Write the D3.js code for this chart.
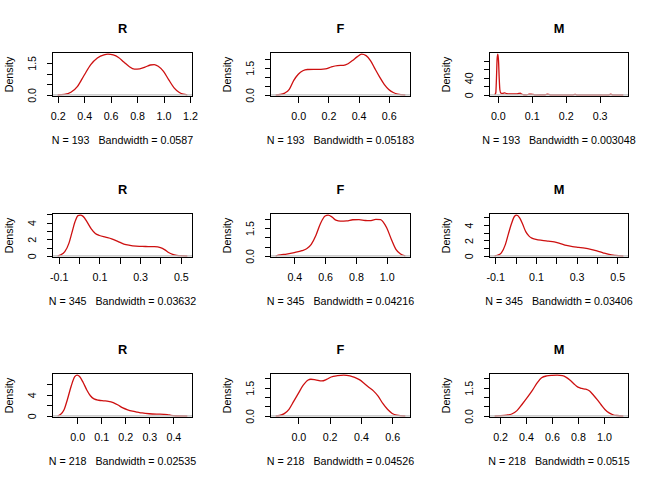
<!DOCTYPE html>
<html>
<head>
<meta charset="utf-8">
<script src="https://cdn.jsdelivr.net/npm/d3@7"></script>
<style>
  html, body { margin: 0; padding: 0; background: #ffffff; }
  svg { display: block; }
  text { font-family: "Liberation Sans", Arial, Helvetica, sans-serif; fill: #000; }
</style>
</head>
<body>
<svg id="chart" width="655" height="482"></svg>
<script>
// ---------------- DATA ----------------
const titles = ["R", "F", "M", "R", "F", "M", "R", "F", "M"];
const sampleN = [193, 193, 193, 345, 345, 345, 218, 218, 218];
const bandwidths = ["0.0587", "0.05183", "0.003048", "0.03632", "0.04216", "0.03406", "0.02535", "0.04526", "0.0515"];

// density curves (x, density)
const d1x = [0.20, 0.25, 0.30, 0.35, 0.40, 0.45, 0.50, 0.55, 0.58, 0.62, 0.66, 0.70, 0.74, 0.78, 0.82, 0.86, 0.90, 0.93, 0.96, 1.00, 1.04, 1.08, 1.12, 1.15, 1.18];
const d1y = [0.00, 0.02, 0.12, 0.40, 0.92, 1.42, 1.73, 1.88, 1.91, 1.87, 1.75, 1.54, 1.33, 1.21, 1.22, 1.30, 1.40, 1.42, 1.34, 1.10, 0.70, 0.33, 0.11, 0.03, 0.00];

const d2x = [-0.15, -0.12, -0.09, -0.06, -0.03, 0.00, 0.03, 0.06, 0.10, 0.15, 0.18, 0.22, 0.26, 0.30, 0.33, 0.36, 0.39, 0.42, 0.45, 0.48, 0.51, 0.54, 0.57, 0.60, 0.63, 0.66, 0.71];
const d2y = [0.00, 0.02, 0.10, 0.30, 0.80, 1.14, 1.33, 1.40, 1.41, 1.41, 1.43, 1.55, 1.62, 1.63, 1.72, 1.90, 2.10, 2.25, 2.17, 1.88, 1.42, 0.98, 0.58, 0.30, 0.13, 0.04, 0.00];

const d3x = [-0.0094, -0.006, -0.004, -0.002, 0.000, 0.002, 0.004, 0.006, 0.009, 0.014, 0.020, 0.026, 0.035, 0.045, 0.055, 0.062, 0.066, 0.070, 0.076, 0.085, 0.092, 0.098, 0.104, 0.110, 0.140, 0.145, 0.150, 0.156, 0.220, 0.228, 0.234, 0.325, 0.333, 0.340, 0.370];
const d3y = [0, 5, 40, 85, 95, 80, 40, 12, 4, 3.5, 4.5, 3, 2.5, 2.5, 2.5, 3.5, 4, 2, 0.3, 0.2, 1.5, 1.5, 1.0, 0.2, 0.3, 1.5, 1.2, 0.1, 0.1, 1.3, 0.1, 0.1, 1.4, 0.1, 0];

const d4x = [-0.105, -0.09, -0.07, -0.05, -0.035, -0.02, -0.005, 0.005, 0.02, 0.04, 0.06, 0.08, 0.10, 0.13, 0.16, 0.19, 0.22, 0.25, 0.28, 0.31, 0.34, 0.37, 0.40, 0.42, 0.44, 0.46, 0.48, 0.50, 0.532];
const d4y = [0, 0.12, 0.5, 1.5, 2.8, 4.1, 4.85, 4.9, 4.75, 4.05, 3.25, 2.7, 2.45, 2.25, 2.05, 1.75, 1.42, 1.27, 1.18, 1.13, 1.12, 1.10, 0.98, 0.75, 0.40, 0.18, 0.07, 0.02, 0];

const d5x = [0.279, 0.31, 0.35, 0.40, 0.45, 0.48, 0.51, 0.54, 0.57, 0.60, 0.62, 0.645, 0.67, 0.70, 0.74, 0.78, 0.82, 0.86, 0.89, 0.93, 0.96, 0.98, 1.00, 1.03, 1.06, 1.09, 1.121];
const d5y = [0, 0.05, 0.10, 0.18, 0.28, 0.38, 0.62, 1.10, 1.75, 2.15, 2.20, 2.10, 1.93, 1.88, 1.89, 1.95, 1.96, 1.91, 1.90, 1.97, 1.96, 1.80, 1.52, 0.90, 0.35, 0.10, 0];

const d6x = [-0.103, -0.09, -0.07, -0.05, -0.035, -0.02, -0.005, 0.005, 0.02, 0.035, 0.05, 0.065, 0.08, 0.10, 0.13, 0.16, 0.19, 0.22, 0.25, 0.28, 0.31, 0.34, 0.37, 0.40, 0.43, 0.46, 0.49, 0.53];
const d6y = [0, 0.08, 0.4, 1.5, 2.9, 4.2, 5.15, 5.3, 4.95, 4.1, 3.15, 2.6, 2.3, 2.15, 2.02, 1.92, 1.82, 1.6, 1.35, 1.2, 1.1, 1.0, 0.85, 0.65, 0.40, 0.18, 0.07, 0];

const d7x = [-0.081, -0.07, -0.055, -0.04, -0.025, -0.01, 0.000, 0.01, 0.025, 0.04, 0.055, 0.07, 0.09, 0.11, 0.13, 0.15, 0.17, 0.19, 0.21, 0.23, 0.25, 0.27, 0.30, 0.33, 0.36, 0.375, 0.39, 0.41, 0.458];
const d7y = [0, 0.25, 1.1, 3.2, 5.6, 7.4, 7.7, 7.45, 6.3, 4.9, 3.8, 3.2, 2.95, 2.85, 2.75, 2.5, 2.05, 1.5, 1.15, 0.9, 0.72, 0.55, 0.40, 0.33, 0.30, 0.25, 0.08, 0.02, 0];

const d8x = [-0.145, -0.12, -0.09, -0.06, -0.03, 0.00, 0.03, 0.06, 0.08, 0.11, 0.15, 0.18, 0.21, 0.25, 0.29, 0.33, 0.36, 0.39, 0.42, 0.45, 0.48, 0.51, 0.54, 0.57, 0.60, 0.63, 0.684];
const d8y = [0, 0.02, 0.12, 0.35, 0.77, 1.20, 1.62, 1.90, 1.95, 1.92, 1.86, 1.94, 2.07, 2.14, 2.17, 2.13, 2.05, 1.93, 1.74, 1.53, 1.33, 1.05, 0.66, 0.35, 0.13, 0.04, 0];

const d9x = [0.158, 0.20, 0.25, 0.29, 0.33, 0.37, 0.41, 0.45, 0.49, 0.52, 0.56, 0.60, 0.64, 0.68, 0.71, 0.74, 0.77, 0.80, 0.83, 0.86, 0.89, 0.92, 0.95, 0.98, 1.01, 1.04, 1.07, 1.10, 1.15];
const d9y = [0, 0.01, 0.04, 0.10, 0.28, 0.62, 0.98, 1.37, 1.80, 2.03, 2.13, 2.16, 2.17, 2.14, 2.05, 1.90, 1.70, 1.53, 1.46, 1.42, 1.32, 1.10, 0.85, 0.58, 0.33, 0.16, 0.06, 0.02, 0];

// tick values and labels ("" = tick without label)
const xt1 = [0.2, 0.4, 0.6, 0.8, 1.0, 1.2], xl1 = ["0.2", "0.4", "0.6", "0.8", "1.0", "1.2"];
const xt2 = [0.0, 0.2, 0.4, 0.6], xl2 = ["0.0", "0.2", "0.4", "0.6"];
const xt3 = [0.0, 0.1, 0.2, 0.3], xl3 = ["0.0", "0.1", "0.2", "0.3"];
const xt4 = [-0.1, 0.0, 0.1, 0.2, 0.3, 0.4, 0.5], xl4 = ["-0.1", "", "0.1", "", "0.3", "", "0.5"];
const xt5 = [0.4, 0.6, 0.8, 1.0], xl5 = ["0.4", "0.6", "0.8", "1.0"];
const xt6 = [-0.1, 0.0, 0.1, 0.2, 0.3, 0.4, 0.5], xl6 = ["-0.1", "", "0.1", "", "0.3", "", "0.5"];
const xt7 = [0.0, 0.1, 0.2, 0.3, 0.4], xl7 = ["0.0", "0.1", "0.2", "0.3", "0.4"];
const xt8 = [0.0, 0.2, 0.4, 0.6], xl8 = ["0.0", "0.2", "0.4", "0.6"];
const xt9 = [0.2, 0.4, 0.6, 0.8, 1.0], xl9 = ["0.2", "0.4", "0.6", "0.8", "1.0"];

const yt1 = [0, 0.5, 1.0, 1.5], yl1 = ["0.0", "", "", "1.5"];
const yt2 = [0, 0.5, 1.0, 1.5, 2.0], yl2 = ["0.0", "", "", "1.5", ""];
const yt3 = [0, 20, 40, 60, 80], yl3 = ["0", "", "40", "", ""];
const yt4 = [0, 1, 2, 3, 4, 5], yl4 = ["0", "", "2", "", "4", ""];
const yt5 = [0, 0.5, 1.0, 1.5, 2.0], yl5 = ["0.0", "", "", "1.5", ""];
const yt6 = [0, 1, 2, 3, 4, 5], yl6 = ["0", "", "2", "", "4", ""];
const yt7 = [0, 2, 4, 6], yl7 = ["0", "", "4", ""];
const yt8 = [0, 0.5, 1.0, 1.5, 2.0], yl8 = ["0.0", "", "", "1.5", ""];
const yt9 = [0, 0.5, 1.0, 1.5, 2.0], yl9 = ["0.0", "", "", "1.5", ""];

const curveX = [d1x, d2x, d3x, d4x, d5x, d6x, d7x, d8x, d9x];
const curveY = [d1y, d2y, d3y, d4y, d5y, d6y, d7y, d8y, d9y];
const xTicks = [xt1, xt2, xt3, xt4, xt5, xt6, xt7, xt8, xt9];
const xLabels = [xl1, xl2, xl3, xl4, xl5, xl6, xl7, xl8, xl9];
const yTicks = [yt1, yt2, yt3, yt4, yt5, yt6, yt7, yt8, yt9];
const yLabels = [yl1, yl2, yl3, yl4, yl5, yl6, yl7, yl8, yl9];

// ---------------- LAYOUT ----------------
const W = 655, H = 482;
const PW = W / 3, PH = H / 3;
const LINE = 12.667;
const mL = 4.1 * LINE, mR = 2.1 * LINE, mT = 4.1 * LINE, mB = 5.1 * LINE;
const FS = 10.7, FS_MAIN = 12.8;
const RED = "#CD1010";

const svg = d3.select("#chart");

for (let i = 0; i < 9; i++) {
  const row = Math.floor(i / 3), col = i % 3;
  const x0 = col * PW, y0 = row * PH;
  const left = Math.round(x0 + mL) + 0.5;
  const right = Math.round(x0 + PW - mR) + 0.5;
  const top = Math.round(y0 + mT) + 0.5;
  const bottom = Math.round(y0 + PH - mB) + 0.5;

  const xs = curveX[i], ys = curveY[i];
  const pts = xs.map((v, k) => [v, ys[k]]);
  const [xa, xb] = d3.extent(xs);
  const xr = xb - xa;
  const ymax = d3.max(ys);

  const x = d3.scaleLinear().domain([xa - 0.04 * xr, xb + 0.04 * xr]).range([left, right]);
  const y = d3.scaleLinear().domain([-0.04 * ymax, 1.04 * ymax]).range([bottom, top]);

  const g = svg.append("g");

  // density curve
  g.append("path")
    .datum(pts)
    .attr("fill", "none")
    .attr("stroke", RED)
    .attr("stroke-width", 1.3)
    .attr("stroke-linejoin", "round")
    .attr("d", d3.line().x(d => x(d[0])).y(d => y(d[1])).curve(d3.curveMonotoneX));

  // zero line (drawn on top like R's abline)
  g.append("line")
    .attr("x1", left).attr("x2", right)
    .attr("y1", y(0)).attr("y2", y(0))
    .attr("stroke", "#BEBEBE").attr("stroke-width", 1.2);

  // box
  g.append("rect")
    .attr("x", left).attr("y", top)
    .attr("width", right - left).attr("height", bottom - top)
    .attr("fill", "none").attr("stroke", "#000").attr("stroke-width", 1)
    .attr("shape-rendering", "crispEdges");

  // x axis
  const xl = xLabels[i];
  const xt = xTicks[i];
  const xAxis = d3.axisBottom(x).tickValues(xt).tickSize(6).tickSizeOuter(0)
    .tickFormat((d, k) => xl[k]);
  const gx = g.append("g").attr("transform", `translate(0,${bottom})`).call(xAxis);
  gx.select(".domain")
    .attr("d", `M${x(xt[0])},0H${x(xt[xt.length - 1])}`)
    .attr("stroke", "#000").attr("shape-rendering", "crispEdges");
  gx.selectAll(".tick line").attr("stroke", "#000").attr("shape-rendering", "crispEdges");
  gx.selectAll(".tick text")
    .attr("y", 23.3).attr("dy", null)
    .attr("font-size", FS).attr("font-family", null).attr("fill", "#000");
  gx.attr("font-family", null).attr("font-size", null);

  // y axis
  const yl = yLabels[i];
  const yt = yTicks[i];
  const yAxis = d3.axisLeft(y).tickValues(yt).tickSize(6).tickSizeOuter(0)
    .tickFormat((d, k) => yl[k]);
  const gy = g.append("g").attr("transform", `translate(${left},0)`).call(yAxis);
  gy.select(".domain")
    .attr("d", `M0,${y(yt[0])}V${y(yt[yt.length - 1])}`)
    .attr("stroke", "#000").attr("shape-rendering", "crispEdges");
  gy.selectAll(".tick line").attr("stroke", "#000").attr("shape-rendering", "crispEdges");
  gy.selectAll(".tick text")
    .attr("x", null).attr("dy", null)
    .attr("transform", "translate(-16.3,0) rotate(-90)")
    .attr("text-anchor", "middle")
    .attr("font-size", FS).attr("fill", "#000");
  gy.attr("font-family", null).attr("font-size", null);

  // ylab
  g.append("text")
    .attr("transform", `translate(${left - 39.8},${(top + bottom) / 2}) rotate(-90)`)
    .attr("text-anchor", "middle")
    .attr("font-size", FS)
    .text("Density");

  // title
  g.append("text")
    .attr("x", (left + right) / 2).attr("y", top - 20)
    .attr("text-anchor", "middle")
    .attr("font-size", FS_MAIN).attr("font-weight", "bold")
    .text(titles[i]);

  // sub
  g.append("text")
    .attr("x", (left + right) / 2).attr("y", bottom + 47.8)
    .attr("text-anchor", "middle")
    .attr("font-size", FS)
    .attr("xml:space", "preserve")
    .style("white-space", "pre")
    .text(`N = ${sampleN[i]}   Bandwidth = ${bandwidths[i]}`);
}
</script>
</body>
</html>
